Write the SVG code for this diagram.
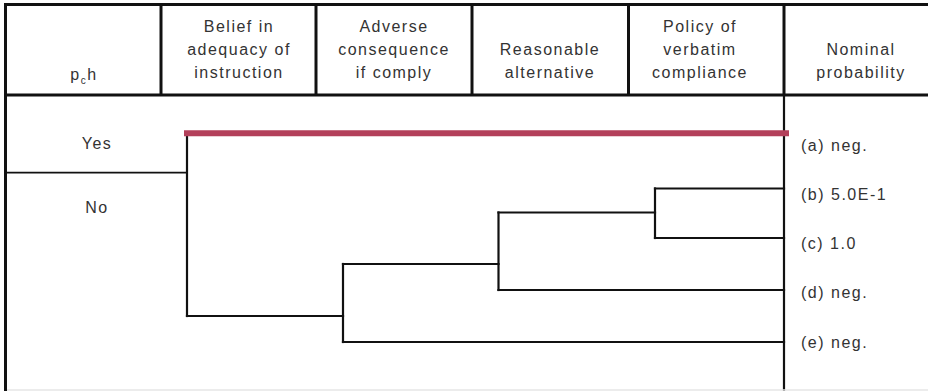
<svg xmlns="http://www.w3.org/2000/svg" width="928" height="391" viewBox="0 0 928 391">
  <style>
    .t { font-family: "Liberation Sans", Arial, sans-serif; font-size: 16px; fill: #333; letter-spacing: 1.5px; }
    .c { text-anchor: middle; }
    .grid { stroke: #111; stroke-width: 3; fill: none; }
    .ln { stroke: #111; stroke-width: 2.2; fill: none; stroke-linecap: square; }
    .red { stroke: #b3405a; stroke-width: 6; fill: none; }
  </style>
  <rect x="0" y="0" width="928" height="391" fill="#fff"/>

  <!-- table frame -->
  <g id="frame">
    <line class="grid" x1="5.5" y1="4.5" x2="928" y2="4.5"/>
    <line class="grid" x1="5.5" y1="95" x2="928" y2="95"/>
    <line class="grid" x1="5.5" y1="3" x2="5.5" y2="391"/>
    <line class="grid" x1="161" y1="4.5" x2="161" y2="95"/>
    <line class="grid" x1="316" y1="4.5" x2="316" y2="95"/>
    <line class="grid" x1="472" y1="4.5" x2="472" y2="95"/>
    <line class="grid" x1="628.5" y1="4.5" x2="628.5" y2="95"/>
    <line class="grid" x1="784" y1="4.5" x2="784" y2="95"/>
    <line x1="784" y1="95" x2="784" y2="391" stroke="#111" stroke-width="2.2"/>
    <line x1="5" y1="172.7" x2="187" y2="172.7" stroke="#111" stroke-width="1.8"/>
    <line x1="7" y1="390" x2="928" y2="390" stroke="#e6e6e6" stroke-width="1.5"/>
  </g>

  <!-- header cells -->
  <g id="h-pch">
    <text class="t c" x="84" y="80">p<tspan font-size="10" dy="4">c</tspan><tspan dy="-4">h</tspan></text>
  </g>
  <g id="h-belief">
    <text class="t c" x="239" y="32">Belief in</text>
    <text class="t c" x="239" y="55">adequacy of</text>
    <text class="t c" x="239" y="78">instruction</text>
  </g>
  <g id="h-adverse">
    <text class="t c" x="394" y="32">Adverse</text>
    <text class="t c" x="394" y="55">consequence</text>
    <text class="t c" x="394" y="78">if comply</text>
  </g>
  <g id="h-reasonable">
    <text class="t c" x="550" y="55">Reasonable</text>
    <text class="t c" x="550" y="78">alternative</text>
  </g>
  <g id="h-policy">
    <text class="t c" x="700" y="32">Policy of</text>
    <text class="t c" x="700" y="55">verbatim</text>
    <text class="t c" x="700" y="78">compliance</text>
  </g>
  <g id="h-nominal">
    <text class="t c" x="861" y="55">Nominal</text>
    <text class="t c" x="861" y="78">probability</text>
  </g>

  <!-- row labels -->
  <g id="row-yes"><text class="t c" x="97" y="148.5">Yes</text></g>
  <g id="row-no"><text class="t c" x="97" y="212.5">No</text></g>

  <!-- outcomes -->
  <g id="out-a"><text class="t" x="801" y="150.5">(a) neg.</text></g>
  <g id="out-b"><text class="t" x="801" y="199.5">(b) 5.0E-1</text></g>
  <g id="out-c"><text class="t" x="801" y="248.5">(c) 1.0</text></g>
  <g id="out-d"><text class="t" x="801" y="298">(d) neg.</text></g>
  <g id="out-e"><text class="t" x="801" y="348">(e) neg.</text></g>

  <!-- connectors (event tree branches) -->
  <g id="connectors">
    <line class="ln" x1="187" y1="134" x2="187" y2="316"/>
    <line class="ln" x1="187" y1="316" x2="343" y2="316"/>
    <line class="ln" x1="343" y1="264" x2="343" y2="342"/>
    <line class="ln" x1="343" y1="264" x2="498.5" y2="264"/>
    <line class="ln" x1="343" y1="342" x2="784" y2="342"/>
    <line class="ln" x1="498.5" y1="212.5" x2="498.5" y2="290"/>
    <line class="ln" x1="498.5" y1="212.5" x2="655" y2="212.5"/>
    <line class="ln" x1="498.5" y1="290" x2="784" y2="290"/>
    <line class="ln" x1="655" y1="188.5" x2="655" y2="238"/>
    <line class="ln" x1="655" y1="188.5" x2="784" y2="188.5"/>
    <line class="ln" x1="655" y1="238" x2="784" y2="238"/>
    <line class="red" x1="184" y1="133.3" x2="789" y2="133.3"/>
  </g>
</svg>
